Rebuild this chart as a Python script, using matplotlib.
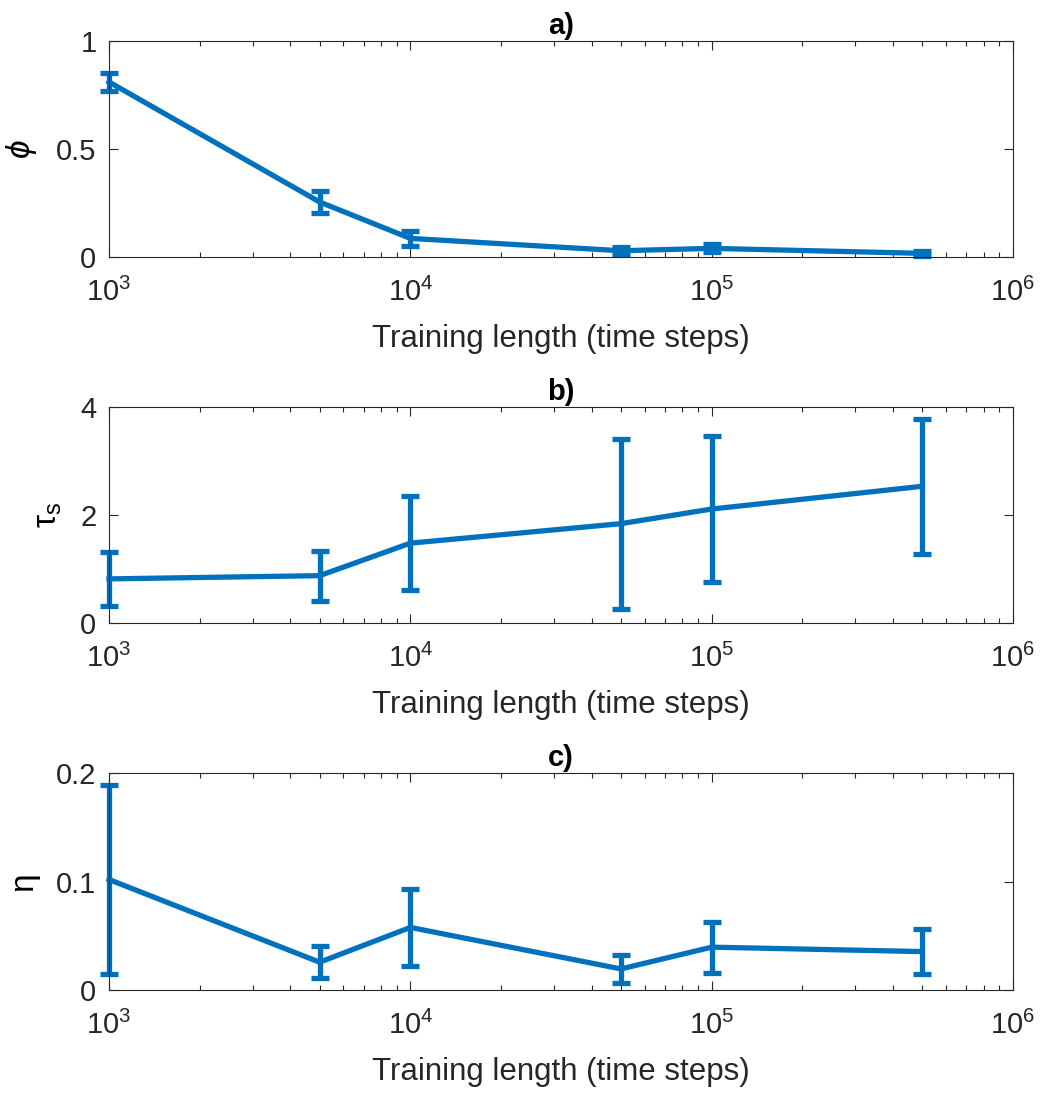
import matplotlib.pyplot as plt
from matplotlib.ticker import LogLocator, NullLocator

plt.rcParams["font.family"] = ["Liberation Sans", "DejaVu Sans"]
plt.rcParams["mathtext.fontset"] = "custom"
plt.rcParams["mathtext.rm"] = "Liberation Sans"
plt.rcParams["mathtext.it"] = "Liberation Sans:italic"

# training lengths (time steps)
train_len = [1e3, 5e3, 1e4, 5e4, 1e5, 5e5]

# panel a: phi
phi_mean = [0.81, 0.256, 0.088, 0.031, 0.042, 0.019]
phi_err = [0.04, 0.049, 0.033, 0.015, 0.018, 0.010]

# panel b: tau_s
tau_mean = [0.82, 0.88, 1.48, 1.84, 2.11, 2.53]
tau_err = [0.50, 0.46, 0.87, 1.57, 1.35, 1.25]

# panel c: eta
eta_mean = [0.102, 0.0257, 0.0578, 0.0195, 0.0396, 0.0355]
eta_err = [0.087, 0.015, 0.0355, 0.0132, 0.0235, 0.0205]

panels = [
    ("a)", r"$\phi$", phi_mean, phi_err, (0, 1), [0, 0.5, 1], ["0", "0.5", "1"]),
    ("b)", r"$\mathrm{\tau_s}$", tau_mean, tau_err, (0, 4), [0, 2, 4], ["0", "2", "4"]),
    ("c)", "η", eta_mean, eta_err, (0, 0.2), [0, 0.1, 0.2], ["0", "0.1", "0.2"]),
]

COLOR = "#0072BD"
DARK = "#262626"

fig = plt.figure(figsize=(10.45, 10.97), dpi=100)
bottoms = [0.7653, 0.4318, 0.0975]
left, width, height = 0.1043, 0.8651, 0.1975

for (title, ylab, mean, err, ylim, yticks, yticklabels), bottom in zip(panels, bottoms):
    ax = fig.add_axes([left, bottom, width, height])
    ax.errorbar(train_len, mean, yerr=err, color=COLOR, lw=3.8,
                elinewidth=3.8, capsize=6.2, capthick=3.8, clip_on=False)
    ax.set_xscale("log")
    ax.set_xlim(1e3, 1e6)
    ax.set_ylim(*ylim)
    ax.xaxis.set_major_locator(LogLocator(base=10, numticks=10))
    ax.xaxis.set_minor_locator(LogLocator(base=10, subs=range(2, 10), numticks=10))
    ax.yaxis.set_minor_locator(NullLocator())
    ax.set_yticks(yticks)
    ax.set_yticklabels(yticklabels)
    ax.tick_params(which="both", direction="in", top=True, right=True,
                   colors=DARK, labelsize=21, width=0.8)
    ax.tick_params(which="major", length=6.5)
    ax.tick_params(which="minor", length=3.5)
    ax.tick_params(axis="x", which="major", pad=15)
    ax.tick_params(axis="y", which="major", pad=9)
    for s in ax.spines.values():
        s.set_color(DARK)
        s.set_linewidth(0.8)
    ax.set_title(title, fontsize=21, fontweight="bold", pad=5)
    ax.set_xlabel("Training length (time steps)", fontsize=22.5, color=DARK, labelpad=12)
    ax.set_ylabel(ylab, fontsize=24, color="black", labelpad=12)

fig.savefig("out.png", dpi=100)
